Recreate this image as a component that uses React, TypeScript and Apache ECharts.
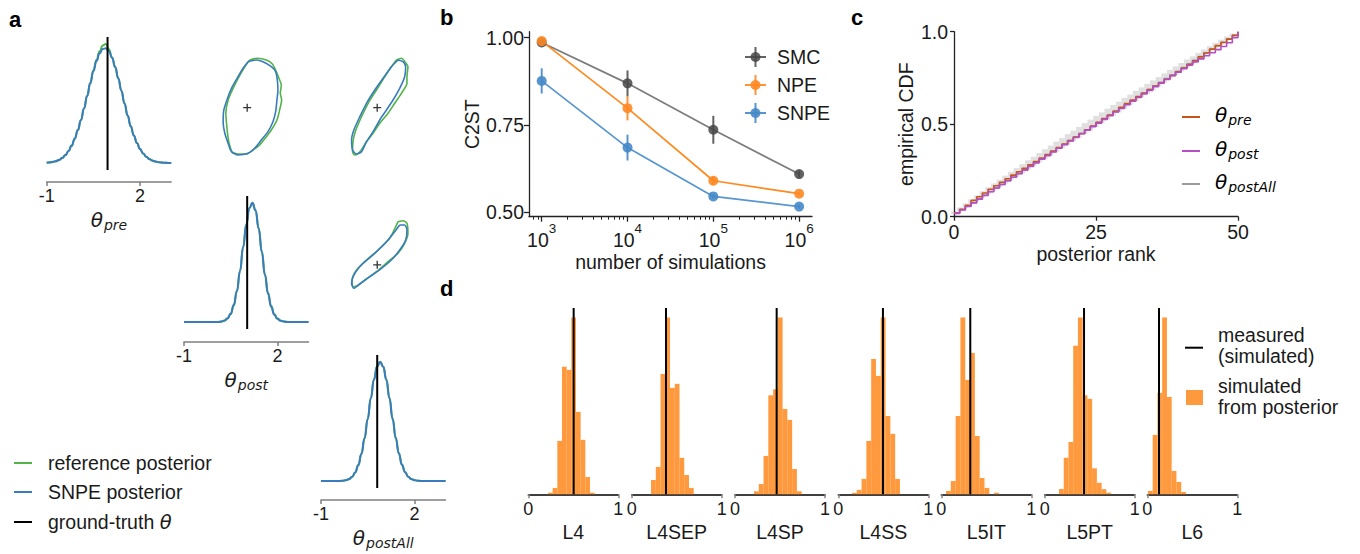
import React, { useEffect, useRef } from 'react';
import * as echarts from 'echarts';

const FONT = '"Liberation Sans", Arial, Helvetica, sans-serif';
const MATH = '"DejaVu Sans", sans-serif';
const INK = '#1a1a1a';
const GREEN = '#52b448';
const BLUE = '#3a7bbf';
const ORANGE = 'rgba(255,127,14,0.8)';

// ---------- panel a: marginal densities ----------
const densX = [-1, -0.9, -0.8, -0.7, -0.6, -0.5, -0.4, -0.3, -0.2, -0.1, 0, 0.1, 0.2, 0.3, 0.4, 0.5, 0.6, 0.7, 0.8, 0.9, 1, 1.1, 1.2, 1.3, 1.4, 1.5, 1.6, 1.7, 1.8, 1.9, 2, 2.1, 2.2, 2.3, 2.4, 2.5, 2.6, 2.7, 2.8, 2.9, 3];
const densPreSnpe = [0.003, 0.006, 0.010, 0.017, 0.028, 0.044, 0.068, 0.102, 0.149, 0.208, 0.282, 0.369, 0.469, 0.575, 0.684, 0.786, 0.874, 0.940, 0.977, 0.983, 0.957, 0.902, 0.822, 0.726, 0.620, 0.511, 0.408, 0.315, 0.235, 0.170, 0.119, 0.081, 0.053, 0.033, 0.020, 0.012, 0.007, 0.004, 0.002, 0.001, 0];
const densPreRef = [0.002, 0.005, 0.009, 0.015, 0.026, 0.042, 0.066, 0.100, 0.147, 0.206, 0.280, 0.367, 0.468, 0.576, 0.688, 0.795, 0.885, 0.958, 1.008, 1.020, 0.975, 0.905, 0.822, 0.724, 0.618, 0.510, 0.407, 0.315, 0.236, 0.171, 0.120, 0.082, 0.054, 0.034, 0.021, 0.012, 0.007, 0.004, 0.002, 0.001, 0];
const densPostSnpe = [0, 0, 0, 0, 0, 0, 0, 0, 0, 0, 0, 0.001, 0.004, 0.013, 0.032, 0.072, 0.148, 0.268, 0.439, 0.640, 0.834, 0.975, 1.019, 0.954, 0.799, 0.598, 0.401, 0.241, 0.130, 0.062, 0.027, 0.010, 0.004, 0.001, 0, 0, 0, 0, 0, 0, 0];
const densPostRef = [0, 0, 0, 0, 0, 0, 0, 0, 0, 0, 0, 0.001, 0.003, 0.011, 0.029, 0.066, 0.140, 0.262, 0.436, 0.640, 0.836, 0.978, 1.022, 0.958, 0.806, 0.607, 0.411, 0.251, 0.139, 0.069, 0.031, 0.013, 0.005, 0.002, 0, 0, 0, 0, 0, 0, 0];
const densPostAllSnpe = [0, 0, 0, 0, 0, 0, 0, 0.003, 0.007, 0.017, 0.037, 0.075, 0.138, 0.235, 0.367, 0.530, 0.707, 0.866, 0.979, 1.020, 0.979, 0.866, 0.707, 0.530, 0.367, 0.235, 0.138, 0.075, 0.037, 0.017, 0.007, 0.003, 0.001, 0, 0, 0, 0, 0, 0, 0, 0];
const densPostAllRef = [0, 0, 0, 0, 0, 0, 0, 0.002, 0.006, 0.015, 0.034, 0.071, 0.134, 0.232, 0.366, 0.532, 0.712, 0.872, 0.984, 1.022, 0.982, 0.872, 0.715, 0.540, 0.376, 0.242, 0.143, 0.078, 0.039, 0.018, 0.008, 0.003, 0.001, 0, 0, 0, 0, 0, 0, 0, 0];
const truthPre = 0.955;
const truthPost = 1.03;
const truthPostAll = 0.806;

// ---------- panel a: pairwise contours ----------
const contPrePostSnpe = [[1.058, 2.166], [1.325, 2.211], [1.538, 2.166], [1.806, 2.034], [1.944, 1.903], [1.998, 1.684], [2.018, 1.421], [1.986, 1.158], [1.944, 0.850], [1.858, 0.587], [1.698, 0.324], [1.486, 0.105], [1.272, -0.113], [1.058, -0.245], [0.738, -0.289], [0.526, -0.203], [0.418, 0.018], [0.312, 0.282], [0.258, 0.587], [0.280, 0.895], [0.398, 1.203], [0.526, 1.466], [0.706, 1.729], [0.898, 1.992]];
const contPrePostRef = [[1.112, 2.211], [1.346, 2.255], [1.646, 2.211], [1.838, 2.105], [1.966, 1.903], [2.050, 1.729], [2.126, 1.553], [2.094, 1.334], [2.136, 1.158], [2.072, 0.895], [1.986, 0.632], [1.806, 0.368], [1.646, 0.192], [1.432, -0.026], [1.218, -0.158], [1.006, -0.263], [0.738, -0.263], [0.546, -0.203], [0.450, 0.018], [0.398, 0.282], [0.366, 0.545], [0.344, 0.808], [0.418, 1.158], [0.578, 1.466], [0.738, 1.729], [0.952, 2.034]];
const contPrePostAllSnpe = [[1.475, 2.211], [1.635, 2.166], [1.720, 2.034], [1.688, 1.771], [1.528, 1.466], [1.314, 1.158], [1.102, 0.895], [0.888, 0.632], [0.674, 0.324], [0.462, 0.061], [0.302, -0.203], [0.142, -0.263], [0.014, -0.158], [-0.018, 0.105], [0.056, 0.368], [0.248, 0.718], [0.462, 1.071], [0.728, 1.421], [0.994, 1.729], [1.262, 2.034]];
const contPrePostAllRef = [[1.422, 2.211], [1.582, 2.255], [1.720, 2.140], [1.794, 2.034], [1.762, 1.771], [1.762, 1.597], [1.582, 1.334], [1.368, 1.071], [1.154, 0.808], [0.888, 0.545], [0.674, 0.282], [0.462, 0.061], [0.248, -0.203], [0.088, -0.289], [0.014, -0.203], [0.034, 0.105], [0.120, 0.368], [0.302, 0.718], [0.514, 1.071], [0.782, 1.421], [1.048, 1.771], [1.262, 2.034]];
const contPostPostAllSnpe = [[1.528, 2.079], [1.688, 2.079], [1.762, 1.947], [1.720, 1.684], [1.528, 1.421], [1.262, 1.158], [0.942, 0.939], [0.568, 0.718], [0.248, 0.526], [0.056, 0.413], [-0.018, 0.545], [0.088, 0.808], [0.354, 1.071], [0.728, 1.334], [1.102, 1.639], [1.368, 1.903]];
const contPostPostAllRef = [[1.474, 2.166], [1.634, 2.192], [1.762, 2.124], [1.794, 1.861], [1.688, 1.597], [1.474, 1.334], [1.154, 1.113], [0.782, 0.850], [0.408, 0.632], [0.142, 0.474], [0.014, 0.455], [0.002, 0.632], [0.142, 0.895], [0.462, 1.158], [0.834, 1.421], [1.208, 1.729]];

// ---------- panel b ----------
const methods = ['SMC', 'NPE', 'SNPE'];
const simsLog10 = [3, 4, 5, 6];
const c2stSMC = [0.986, 0.869, 0.736, 0.609];
const errSMC = [0.005, 0.037, 0.040, 0.010];
const c2stNPE = [0.990, 0.798, 0.590, 0.553];
const errNPE = [0.004, 0.035, 0.012, 0.005];
const c2stSNPE = [0.876, 0.685, 0.545, 0.516];
const errSNPE = [0.036, 0.037, 0.006, 0.005];
const bTicksY = [0.5, 0.75, 1.0];

// ---------- panel c ----------
const cdfPre = [0.02, 0.04, 0.062, 0.088, 0.108, 0.128, 0.148, 0.167, 0.186, 0.205, 0.225, 0.243, 0.262, 0.28, 0.298, 0.317, 0.336, 0.355, 0.374, 0.393, 0.412, 0.431, 0.45, 0.47, 0.49, 0.51, 0.53, 0.55, 0.571, 0.592, 0.611, 0.63, 0.649, 0.668, 0.687, 0.706, 0.724, 0.743, 0.763, 0.783, 0.803, 0.823, 0.843, 0.864, 0.885, 0.906, 0.925, 0.942, 0.96, 0.98, 1.0];
const cdfPost = [0.018, 0.036, 0.055, 0.075, 0.095, 0.115, 0.135, 0.155, 0.174, 0.194, 0.213, 0.232, 0.252, 0.272, 0.291, 0.311, 0.33, 0.35, 0.37, 0.389, 0.409, 0.428, 0.448, 0.468, 0.487, 0.506, 0.526, 0.546, 0.566, 0.585, 0.605, 0.624, 0.644, 0.664, 0.683, 0.703, 0.722, 0.742, 0.762, 0.781, 0.8, 0.819, 0.837, 0.853, 0.87, 0.886, 0.903, 0.92, 0.94, 0.968, 1.0];
const cdfPostAll = [0.02, 0.038, 0.058, 0.077, 0.097, 0.117, 0.136, 0.156, 0.175, 0.195, 0.215, 0.234, 0.254, 0.274, 0.293, 0.313, 0.332, 0.352, 0.372, 0.391, 0.411, 0.43, 0.45, 0.47, 0.489, 0.509, 0.528, 0.548, 0.568, 0.587, 0.607, 0.627, 0.647, 0.667, 0.687, 0.707, 0.727, 0.747, 0.767, 0.786, 0.806, 0.826, 0.846, 0.866, 0.886, 0.905, 0.924, 0.943, 0.962, 0.981, 1.0];
const bandUpper = [0.028, 0.050, 0.072, 0.094, 0.116, 0.138, 0.159, 0.180, 0.200, 0.222, 0.243, 0.263, 0.284, 0.305, 0.324, 0.345, 0.365, 0.385, 0.406, 0.425, 0.446, 0.465, 0.486, 0.506, 0.525, 0.545, 0.564, 0.584, 0.604, 0.622, 0.642, 0.660, 0.680, 0.699, 0.718, 0.737, 0.755, 0.775, 0.794, 0.812, 0.831, 0.850, 0.867, 0.886, 0.904, 0.922, 0.940, 0.957, 0.974, 0.990, 1.0];
const bandLower = [0.014, 0.031, 0.050, 0.067, 0.085, 0.104, 0.122, 0.141, 0.159, 0.178, 0.197, 0.215, 0.235, 0.254, 0.273, 0.292, 0.311, 0.331, 0.350, 0.369, 0.388, 0.407, 0.427, 0.447, 0.466, 0.486, 0.505, 0.525, 0.545, 0.564, 0.584, 0.604, 0.624, 0.645, 0.664, 0.684, 0.704, 0.724, 0.745, 0.764, 0.785, 0.806, 0.826, 0.847, 0.867, 0.888, 0.909, 0.930, 0.952, 0.973, 1.0];

// ---------- panel d ----------
const histNames = ['L4', 'L4SEP', 'L4SP', 'L4SS', 'L5IT', 'L5PT', 'L6'];
const histStart = [0.219, 0.215, 0.211, 0.152, 0.052, 0.159, 0.007];
const histBinWidth = [0.0518, 0.0527, 0.053, 0.0533, 0.0535, 0.0526, 0.0528];
const histHeights = [
  [0.009, 0.036, 0.302, 0.721, 0.704, 1.0, 0.466, 0.308, 0.098, 0.009],
  [0.081, 0.155, 0.681, 1.0, 0.602, 0.625, 0.206, 0.109, 0.036],
  [0.017, 0.058, 0.217, 0.560, 0.594, 1.0, 0.483, 0.421, 0.143, 0.017],
  [0.008, 0.025, 0.087, 0.302, 0.766, 0.670, 1.0, 0.443, 0.342, 0.087],
  [0.019, 0.075, 0.443, 1.0, 0.647, 0.8, 0.330, 0.092, 0.036, 0, 0.009],
  [0.03, 0.207, 0.296, 0.841, 1.0, 0.56, 0.54, 0.147, 0.065, 0.029, 0.009],
  [0.019, 0.336, 0.574, 1.0, 0.551, 0.132, 0.070, 0.013],
];
const histMeasured = [0.504, 0.381, 0.463, 0.496, 0.322, 0.437, 0.130];

const thetaRich = (size = 20, sub = 14, drop = 12) => ({
  t: { fontFamily: MATH, fontStyle: 'italic', fontSize: size, color: INK, verticalAlign: 'top', lineHeight: size + 2 },
  s: { fontFamily: MATH, fontStyle: 'italic', fontSize: sub, color: INK, verticalAlign: 'bottom', lineHeight: sub, padding: [drop, 0, 0, 1] },
});

function buildOption() {
  const grid: any[] = [];
  const xAxis: any[] = [];
  const yAxis: any[] = [];
  const series: any[] = [];
  const gfx: any[] = [];

  const addGrid = (left: number, top: number, width: number, height: number) => {
    grid.push({ left, top, width, height, containLabel: false });
    return grid.length - 1;
  };
  const hidden = (gi: number, min: number, max: number) => ({ type: 'value', gridIndex: gi, show: false, min, max });
  const line = (xi: number, yi: number, data: any[], color: string, width: number, smooth: any, mono = true) => ({
    type: 'line', xAxisIndex: xi, yAxisIndex: yi, data, showSymbol: false, symbol: 'none',
    smooth, smoothMonotone: smooth && mono ? 'x' : undefined, lineStyle: { color, width }, itemStyle: { color }, silent: true,
  });

  // ---------- panel a ----------
  const diagPanel = (left: number, top: number, offset: number, sub: string, refD: number[], snpeD: number[], truth: number) => {
    const gi = addGrid(left, top, 124.5, 133);
    const xi = xAxis.push({
      type: 'value', gridIndex: gi, min: -1, max: 3, position: 'bottom', offset,
      axisLine: { show: true, onZero: false, lineStyle: { color: '#7f7f7f', width: 1.5 } },
      axisTick: { show: true, customValues: [-1, 2], length: 4, lineStyle: { color: '#7f7f7f', width: 1.5 } },
      axisLabel: { show: true, customValues: [-1, 2], fontSize: 18, fontFamily: FONT, color: INK, margin: 5 },
      splitLine: { show: false },
      name: `{t|θ}{s|${sub}}`, nameLocation: 'middle', nameGap: 27, nameTextStyle: { rich: thetaRich() },
    }) - 1;
    const yi = yAxis.push(hidden(gi, -0.06, 1.08)) - 1;
    series.push(line(xi, yi, densX.map((x, i) => [x, refD[i]]), GREEN, 2, 0.5));
    series.push(line(xi, yi, densX.map((x, i) => [x, snpeD[i]]), BLUE, 2, 0.5));
    series.push(line(xi, yi, [[truth, -0.06], [truth, 1.08]], '#000', 2, false));
  };
  const contourPanel = (left: number, top: number, refC: number[][], snpeC: number[][], tx: number, ty: number) => {
    const gi = addGrid(left, top, 124.5, 152);
    const xi = xAxis.push(hidden(gi, -1, 3)) - 1;
    const yi = yAxis.push(hidden(gi, -1, 3)) - 1;
    series.push(line(xi, yi, [...refC, refC[0]], GREEN, 1.6, 0.25, false));
    series.push(line(xi, yi, [...snpeC, snpeC[0]], BLUE, 1.6, 0.25, false));
    series.push({
      type: 'scatter', xAxisIndex: xi, yAxisIndex: yi, data: [[tx, ty]], symbol: 'path://M5,0L5,10M0,5L10,5',
      symbolSize: 8, itemStyle: { color: 'none', borderColor: '#000', borderWidth: 1.3 }, silent: true,
    });
  };

  diagPanel(46.7, 37, 12, 'pre', densPreRef, densPreSnpe, truthPre);
  contourPanel(184, 30, contPrePostRef, contPrePostSnpe, truthPost, truthPre);
  contourPanel(321, 30, contPrePostAllRef, contPrePostAllSnpe, truthPostAll, truthPre);
  diagPanel(184, 196, 13, 'post', densPostRef, densPostSnpe, truthPost);
  contourPanel(321, 190, contPostPostAllRef, contPostPostAllSnpe, truthPostAll, truthPost);
  diagPanel(321, 355, 12, 'postAll', densPostAllRef, densPostAllSnpe, truthPostAll);

  // legend a
  const legA = [
    { y: 463, color: GREEN, text: 'reference posterior' },
    { y: 492, color: BLUE, text: 'SNPE posterior' },
    { y: 522, color: '#000', text: 'ground-truth {t|θ}' },
  ];
  legA.forEach((l) => {
    gfx.push({ type: 'line', shape: { x1: 14, y1: l.y, x2: 32, y2: l.y }, style: { stroke: l.color, lineWidth: 2 } });
    gfx.push({
      type: 'text', x: 48, y: l.y,
      style: { text: l.text, fontSize: 19.5, fontFamily: FONT, fill: INK, verticalAlign: 'middle',
        rich: { t: { fontFamily: MATH, fontStyle: 'italic', fontSize: 19.5, fill: INK } } },
    });
  });

  // ---------- panel b ----------
  const bXMin = 2.852, bXMax = 6.15;
  const gb = addGrid(529, 31.7, 283, 185);
  const bxi = xAxis.push({
    type: 'value', gridIndex: gb, min: bXMin, max: bXMax, position: 'bottom',
    axisLine: { show: true, onZero: false, lineStyle: { color: '#222', width: 1.3 } },
    axisTick: { show: true, customValues: simsLog10, length: 5, lineStyle: { color: '#222', width: 1.3 } },
    axisLabel: {
      show: true, customValues: simsLog10, margin: 5,
      formatter: (v: number) => `{b|10}{s|${Math.round(v)}}`,
      rich: {
        b: { fontSize: 19.5, fontFamily: FONT, color: INK, verticalAlign: 'bottom', lineHeight: 28 },
        s: { fontSize: 13.5, fontFamily: FONT, color: INK, verticalAlign: 'top', lineHeight: 14 },
      },
    },
    splitLine: { show: false },
    name: 'number of simulations', nameLocation: 'middle', nameGap: 35,
    nameTextStyle: { fontSize: 19.5, fontFamily: FONT, color: INK },
  }) - 1;
  const minorTicks: number[] = [];
  for (let e = 2; e <= 6; e++) for (let k = 2; k <= 9; k++) {
    const v = e + Math.log10(k);
    if (v > bXMin && v < bXMax) minorTicks.push(v);
  }
  xAxis.push({
    type: 'value', gridIndex: gb, min: bXMin, max: bXMax, position: 'bottom',
    axisLine: { show: false, onZero: false }, axisLabel: { show: false }, splitLine: { show: false },
    axisTick: { show: true, customValues: minorTicks, length: 3, lineStyle: { color: '#222', width: 1 } },
  });
  const byi = yAxis.push({
    type: 'value', gridIndex: gb, min: 0.487, max: 1.017,
    axisLine: { show: true, onZero: false, lineStyle: { color: '#222', width: 1.3 } },
    axisTick: { show: true, customValues: bTicksY, length: 5, lineStyle: { color: '#222', width: 1.3 } },
    axisLabel: { show: true, customValues: bTicksY, fontSize: 19.5, fontFamily: FONT, color: INK, margin: 5, formatter: (v: number) => v.toFixed(2) },
    splitLine: { show: false },
    name: 'C2ST', nameLocation: 'middle', nameGap: 47, nameTextStyle: { fontSize: 19.5, fontFamily: FONT, color: INK },
  }) - 1;
  const bSets = [
    { name: methods[0], vals: c2stSMC, errs: errSMC, lineColor: '#7c7c7c', markColor: 'rgba(70,70,70,0.85)' },
    { name: methods[1], vals: c2stNPE, errs: errNPE, lineColor: '#ff8a1f', markColor: 'rgba(253,136,36,0.9)' },
    { name: methods[2], vals: c2stSNPE, errs: errSNPE, lineColor: '#5896d0', markColor: 'rgba(70,136,200,0.9)' },
  ];
  bSets.forEach((s) => {
    series.push({
      type: 'line', name: s.name, xAxisIndex: bxi, yAxisIndex: byi,
      data: simsLog10.map((x, i) => [x, s.vals[i]]), symbol: 'circle', symbolSize: 10, showSymbol: true,
      lineStyle: { color: s.lineColor, width: 1.7 }, itemStyle: { color: s.markColor }, silent: true,
    });
    series.push({
      type: 'custom', xAxisIndex: bxi, yAxisIndex: byi, silent: true,
      data: simsLog10.map((x, i) => [x, s.vals[i] - s.errs[i], s.vals[i] + s.errs[i]]),
      encode: { x: 0, y: [1, 2] },
      renderItem: (_p: any, api: any) => {
        const a = api.coord([api.value(0), api.value(1)]);
        const b = api.coord([api.value(0), api.value(2)]);
        return { type: 'line', shape: { x1: a[0], y1: a[1], x2: b[0], y2: b[1] }, style: { stroke: s.markColor, lineWidth: 2 } };
      },
    });
  });
  const legBY = [57, 85, 113];
  bSets.forEach((s, i) => {
    const y = legBY[i];
    gfx.push({ type: 'line', shape: { x1: 745, y1: y, x2: 766, y2: y }, style: { stroke: s.markColor, lineWidth: 2 } });
    gfx.push({ type: 'line', shape: { x1: 755.5, y1: y - 10, x2: 755.5, y2: y + 10 }, style: { stroke: s.markColor, lineWidth: 2 } });
    gfx.push({ type: 'circle', shape: { cx: 755.5, cy: y, r: 5 }, style: { fill: s.markColor } });
    gfx.push({ type: 'text', x: 777, y, style: { text: s.name, fontSize: 19.5, fontFamily: FONT, fill: INK, verticalAlign: 'middle' } });
  });

  // ---------- panel c ----------
  const gc = addGrid(954, 31.7, 284, 185);
  const cxi = xAxis.push({
    type: 'value', gridIndex: gc, min: 0, max: 50,
    axisLine: { show: true, onZero: false, lineStyle: { color: '#222', width: 1.3 } },
    axisTick: { show: true, customValues: [0, 25, 50], length: 4, lineStyle: { color: '#222', width: 1.3 } },
    axisLabel: { show: true, customValues: [0, 25, 50], fontSize: 19.5, fontFamily: FONT, color: INK, margin: 5 },
    splitLine: { show: false },
    name: 'posterior rank', nameLocation: 'middle', nameGap: 27, nameTextStyle: { fontSize: 19.5, fontFamily: FONT, color: INK },
  }) - 1;
  const cyi = yAxis.push({
    type: 'value', gridIndex: gc, min: 0, max: 1,
    axisLine: { show: true, onZero: false, lineStyle: { color: '#222', width: 1.3 } },
    axisTick: { show: true, customValues: [0, 0.5, 1], length: 4, lineStyle: { color: '#222', width: 1.3 } },
    axisLabel: { show: true, customValues: [0, 0.5, 1], fontSize: 19.5, fontFamily: FONT, color: INK, margin: 6, formatter: (v: number) => v.toFixed(1) },
    splitLine: { show: false },
    name: 'empirical CDF', nameLocation: 'middle', nameGap: 38, nameTextStyle: { fontSize: 19.5, fontFamily: FONT, color: INK },
  }) - 1;
  const ranks = cdfPre.map((_, i) => i);
  series.push({
    type: 'custom', xAxisIndex: cxi, yAxisIndex: cyi, silent: true,
    data: ranks.map((r, i) => [r, bandLower[i], bandUpper[i]]),
    encode: { x: 0, y: [1, 2] },
    renderItem: (_p: any, api: any) => {
      const a = api.coord([api.value(0) - 0.5, api.value(2)]);
      const b = api.coord([api.value(0) + 0.5, api.value(1)]);
      return { type: 'rect', shape: { x: a[0], y: a[1], width: b[0] - a[0], height: b[1] - a[1] }, style: { fill: 'rgba(0,0,0,0.12)' } };
    },
  });
  const cLines = [
    { data: cdfPostAll, color: '#9a9a9a' },
    { data: cdfPre, color: '#c4561c' },
    { data: cdfPost, color: '#b54fc6' },
  ];
  cLines.forEach((c) => {
    series.push({
      type: 'line', xAxisIndex: cxi, yAxisIndex: cyi, data: ranks.map((r, i) => [r, c.data[i]]),
      step: 'end', showSymbol: false, symbol: 'none', lineStyle: { color: c.color, width: 1.6 }, silent: true,
    });
  });
  const legC = [
    { y: 117, color: '#c4561c', sub: 'pre' },
    { y: 151, color: '#b54fc6', sub: 'post' },
    { y: 184, color: '#9a9a9a', sub: 'postAll' },
  ];
  legC.forEach((l) => {
    gfx.push({ type: 'line', shape: { x1: 1182, y1: l.y, x2: 1200, y2: l.y }, style: { stroke: l.color, lineWidth: 2 } });
    gfx.push({ type: 'text', x: 1215, y: l.y - 12, style: { text: `{t|θ}{s|${l.sub}}`, rich: thetaRich(20, 14, 12) } });
  });

  // ---------- panel d ----------
  const dLefts = [528.3, 631.7, 735, 838.3, 941.3, 1044.7, 1147.3];
  histNames.forEach((name, h) => {
    const gi = addGrid(dLefts[h], 308, 90, 186.3);
    const xi = xAxis.push({
      type: 'value', gridIndex: gi, min: 0, max: 1,
      axisLine: { show: true, onZero: false, lineStyle: { color: '#000', width: 1.5 } },
      axisTick: { show: true, customValues: [0, 1], length: 4, lineStyle: { color: '#888', width: 1.5 } },
      axisLabel: { show: true, customValues: [0, 1], fontSize: 18, fontFamily: FONT, color: INK, margin: 6 },
      splitLine: { show: false },
      name, nameLocation: 'middle', nameGap: 28, nameTextStyle: { fontSize: 19.5, fontFamily: FONT, color: INK },
    }) - 1;
    const yi = yAxis.push(hidden(gi, 0, 1.054)) - 1;
    const w = histBinWidth[h];
    const s0 = histStart[h];
    series.push({
      type: 'custom', xAxisIndex: xi, yAxisIndex: yi, silent: true,
      data: histHeights[h].map((v, i) => [s0 + i * w, s0 + (i + 1) * w, v]),
      encode: { x: [0, 1], y: 2 },
      renderItem: (_p: any, api: any) => {
        const a = api.coord([api.value(0), api.value(2)]);
        const b = api.coord([api.value(1), 0]);
        return { type: 'rect', shape: { x: a[0], y: a[1], width: b[0] - a[0], height: b[1] - a[1] }, style: { fill: ORANGE } };
      },
    });
    series.push(line(xi, yi, [[histMeasured[h], 0], [histMeasured[h], 1.054]], '#000', 2, false));
  });
  gfx.push({ type: 'line', shape: { x1: 1185, y1: 347.7, x2: 1203, y2: 347.7 }, style: { stroke: '#000', lineWidth: 2 } });
  gfx.push({ type: 'text', x: 1218, y: 335, style: { text: 'measured', fontSize: 19.5, fontFamily: FONT, fill: INK, verticalAlign: 'middle' } });
  gfx.push({ type: 'text', x: 1218, y: 356, style: { text: '(simulated)', fontSize: 19.5, fontFamily: FONT, fill: INK, verticalAlign: 'middle' } });
  gfx.push({ type: 'rect', shape: { x: 1186, y: 390, width: 17, height: 15 }, style: { fill: ORANGE } });
  gfx.push({ type: 'text', x: 1218, y: 386, style: { text: 'simulated', fontSize: 19.5, fontFamily: FONT, fill: INK, verticalAlign: 'middle' } });
  gfx.push({ type: 'text', x: 1218, y: 407, style: { text: 'from posterior', fontSize: 19.5, fontFamily: FONT, fill: INK, verticalAlign: 'middle' } });

  // panel letters
  [
    { t: 'a', x: 9, y: 19 },
    { t: 'b', x: 440, y: 17 },
    { t: 'c', x: 851, y: 17 },
    { t: 'd', x: 440, y: 288 },
  ].forEach((p) => {
    gfx.push({ type: 'text', x: p.x, y: p.y, style: { text: p.t, fontSize: 22, fontWeight: 'bold', fontFamily: FONT, fill: '#000', verticalAlign: 'middle' } });
  });

  return {
    animation: false,
    backgroundColor: '#ffffff',
    textStyle: { fontFamily: FONT },
    grid, xAxis, yAxis, series,
    graphic: { elements: gfx },
  };
}

export default function App() {
  const ref = useRef<HTMLDivElement>(null);
  useEffect(() => {
    const chart = echarts.init(ref.current!, null, { renderer: 'svg' });
    chart.setOption(buildOption() as any);
    return () => chart.dispose();
  }, []);
  return <div ref={ref} style={{ position: 'absolute', left: 0, top: 0, width: 1360, height: 554 }} />;
}
